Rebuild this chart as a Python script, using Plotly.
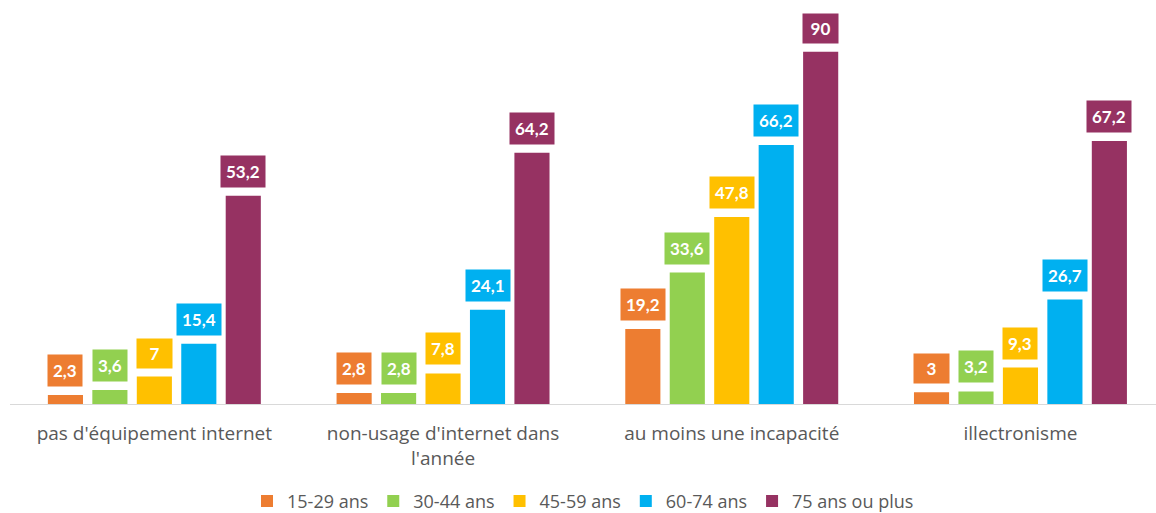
import plotly.graph_objects as go

categories = ["pas d'équipement internet", "non-usage d'internet dans<br>l'année",
              "au moins une incapacité", "illectronisme"]
series_names = ["15-29 ans", "30-44 ans", "45-59 ans", "60-74 ans", "75 ans ou plus"]
values = [
    [2.3, 2.8, 19.2, 3],
    [3.6, 2.8, 33.6, 3.2],
    [7, 7.8, 47.8, 9.3],
    [15.4, 24.1, 66.2, 26.7],
    [53.2, 64.2, 90, 67.2],
]
colors = ["#ED7D31", "#92D050", "#FFC000", "#00B0F0", "#963262"]

def fmt(v):
    s = ("%g" % v).replace(".", ",")
    return s

fig = go.Figure()
for name, vals, col in zip(series_names, values, colors):
    fig.add_trace(go.Bar(name=name, x=list(range(len(categories))), y=vals,
                         marker=dict(color=col, line=dict(width=0))))

bar_step = 44.5
annotations = []
for i, (vals, col) in enumerate(zip(values, colors)):
    for j, v in enumerate(vals):
        t = fmt(v)
        ann = dict(x=j, y=v, text="<b>%s</b>" % t, showarrow=False,
                   xref="x", yref="y", xanchor="center", yanchor="bottom",
                   xshift=(i - 2) * bar_step, yshift=8,
                   bgcolor=col, font=dict(color="white", size=17, family="Lato"),
                   borderpad=5 if len(t) > 2 else 4)
        if len(t) <= 2:
            ann["width"] = 27
        annotations.append(ann)

fig.update_layout(
    width=1156, height=513,
    margin=dict(l=10, r=0, t=10, b=109, autoexpand=False),
    plot_bgcolor="white", paper_bgcolor="white",
    barmode="group", bargap=0.23, bargroupgap=0.21,
    annotations=annotations,
    showlegend=True,
    legend=dict(orientation="h", x=0.5, xanchor="center", y=-0.2, yanchor="top",
                font=dict(size=18, color="#595959", family="Open Sans"),
                itemwidth=30, traceorder="normal"),
    font=dict(family="Open Sans"),
)
fig.update_xaxes(tickvals=list(range(len(categories))), ticktext=categories,
                 range=[-0.5, -0.5 + 1146 / 288.7], automargin=False,
                 showline=True, linecolor="#D9D9D9", linewidth=1,
                 ticks="", ticklabelstandoff=12,
                 tickfont=dict(size=19, color="#595959", family="Open Sans"),
                 showgrid=False, zeroline=False)
fig.update_yaxes(range=[0, 100.7], visible=False, showgrid=False, automargin=False)

fig.write_html("out.html")
